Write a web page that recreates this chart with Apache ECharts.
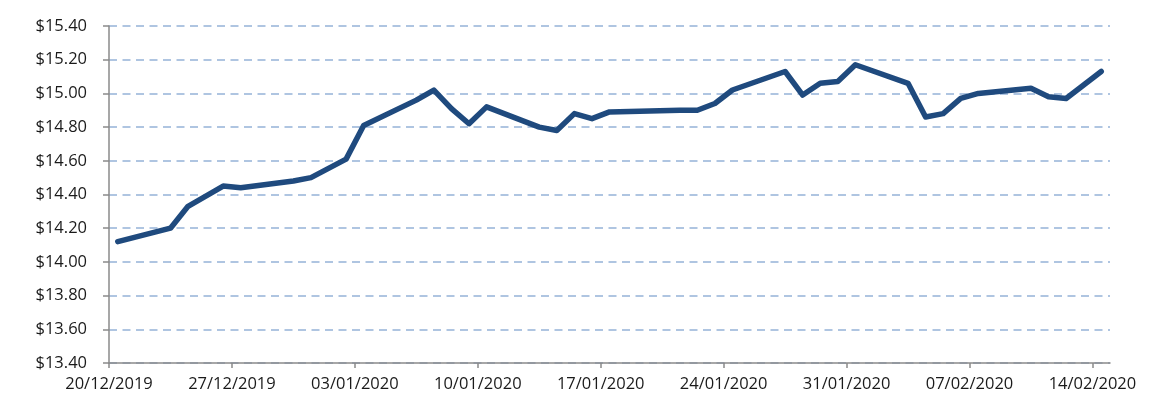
<!DOCTYPE html>
<html>
<head>
<meta charset="utf-8">
<script src="https://cdn.jsdelivr.net/npm/echarts@6/dist/echarts.min.js"></script>
<style>
html,body{margin:0;padding:0;background:#fff;}
#chart{width:1151px;height:400px;}
</style>
</head>
<body>
<div id="chart"></div>
<script>
const dates = [
  '20/12/2019','23/12/2019','24/12/2019','26/12/2019','27/12/2019','30/12/2019','31/12/2019',
  '02/01/2020','03/01/2020','06/01/2020','07/01/2020','08/01/2020','09/01/2020','10/01/2020',
  '13/01/2020','14/01/2020','15/01/2020','16/01/2020','17/01/2020','21/01/2020','22/01/2020',
  '23/01/2020','24/01/2020','27/01/2020','28/01/2020','29/01/2020','30/01/2020','31/01/2020',
  '03/02/2020','04/02/2020','05/02/2020','06/02/2020','07/02/2020','10/02/2020','11/02/2020',
  '12/02/2020','13/02/2020','14/02/2020'
];
const prices = [
  14.12,14.20,14.33,14.45,14.44,14.48,14.50,
  14.61,14.81,14.96,15.02,14.91,14.82,14.92,
  14.80,14.78,14.88,14.85,14.89,14.90,14.90,
  14.94,15.02,15.13,14.99,15.06,15.07,15.17,
  15.06,14.86,14.88,14.97,15.00,15.03,14.98,
  14.97,15.05,15.13
];
const xTickLabels = ['20/12/2019','27/12/2019','03/01/2020','10/01/2020','17/01/2020','24/01/2020','31/01/2020','07/02/2020','14/02/2020'];
const axisEnd = '15/02/2020';
const yTickLabels = ['$13.40','$13.60','$13.80','$14.00','$14.20','$14.40','$14.60','$14.80','$15.00','$15.20','$15.40'];

const DAY = 86400000;
function parseDate(s){ const p = s.split('/'); return Date.UTC(+p[2], +p[1]-1, +p[0]); }
const t0 = parseDate(xTickLabels[0]);
function dayOf(s){ return Math.round((parseDate(s) - t0) / DAY); }
function fmtDay(d){
  const dt = new Date(t0 + d * DAY);
  const dd = String(dt.getUTCDate()).padStart(2,'0');
  const mm = String(dt.getUTCMonth()+1).padStart(2,'0');
  return dd + '/' + mm + '/' + dt.getUTCFullYear();
}
const tickDays = xTickLabels.map(dayOf);
const seriesData = dates.map((d,i) => [dayOf(d) + 0.5, prices[i]]);
const yVals = yTickLabels.map(s => parseFloat(s.replace('$','')));

const textStyle = {fontFamily:'Open Sans', fontSize:16.5, color:'#1a1a1a'};
const chart = echarts.init(document.getElementById('chart'), null, {renderer:'canvas'});
chart.setOption({
  animation:false,
  grid:{left:109, right:41, top:26, bottom:37, containLabel:false},
  xAxis:{
    type:'value', min:0, max:dayOf(axisEnd), interval:7,
    axisLine:{show:true, onZero:false, lineStyle:{color:'#8a8a8a', width:1.5}},
    axisTick:{show:true, length:5, customValues:tickDays, lineStyle:{color:'#8a8a8a', width:1.5}},
    axisLabel:{show:true, customValues:tickDays, margin:13, formatter:v => fmtDay(v), ...textStyle},
    splitLine:{show:false}
  },
  yAxis:{
    type:'value', min:yVals[0], max:yVals[yVals.length-1], interval:0.2,
    axisLine:{show:true, lineStyle:{color:'#8a8a8a', width:1.5}},
    axisTick:{show:true, length:6, lineStyle:{color:'#8a8a8a', width:1.5}},
    axisLabel:{margin:22, formatter:v => '$' + v.toFixed(2), ...textStyle},
    splitLine:{show:true, lineStyle:{color:'#95b3d7', width:1.5, type:[8,5.5]}}
  },
  series:[{
    type:'line', data:seriesData, showSymbol:false, symbol:'none',
    lineStyle:{color:'#1f4a7e', width:5.5, cap:'round', join:'round'},
    z:5
  }]
});
</script>
</body>
</html>
